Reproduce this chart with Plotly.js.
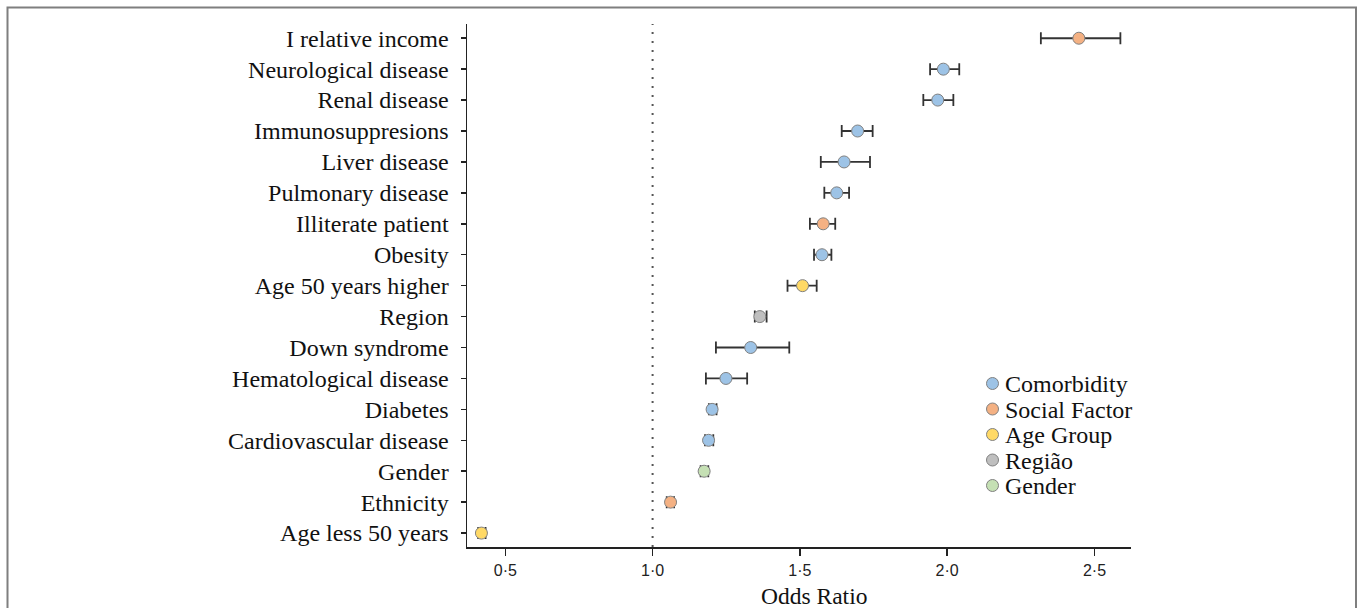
<!DOCTYPE html>
<html>
<head>
<meta charset="utf-8">
<script src="https://cdn.plot.ly/plotly-3.0.1.min.js"></script>
<style>
  html, body { margin: 0; padding: 0; background: #ffffff; }
  #chart { width: 1360px; height: 608px; }
</style>
</head>
<body>
<div id="chart"></div>
<script>
// ---- Data ----
const factors = [
  "I relative income", "Neurological disease", "Renal disease", "Immunosuppresions",
  "Liver disease", "Pulmonary disease", "Illiterate patient", "Obesity",
  "Age 50 years higher", "Region", "Down syndrome", "Hematological disease",
  "Diabetes", "Cardiovascular disease", "Gender", "Ethnicity", "Age less 50 years"
];
const oddsRatio = [2.447, 1.987, 1.968, 1.696, 1.650, 1.625, 1.579, 1.575,
                   1.509, 1.364, 1.333, 1.249, 1.202, 1.190, 1.175, 1.061, 0.419];
const ciLow     = [2.318, 1.942, 1.919, 1.642, 1.571, 1.583, 1.534, 1.548,
                   1.458, 1.347, 1.215, 1.181, 1.191, 1.178, 1.163, 1.048, 0.408];
const ciHigh    = [2.588, 2.041, 2.021, 1.747, 1.738, 1.667, 1.620, 1.607,
                   1.557, 1.387, 1.464, 1.321, 1.217, 1.206, 1.189, 1.073, 0.433];
const factorGroup = [
  "Social Factor", "Comorbidity", "Comorbidity", "Comorbidity",
  "Comorbidity", "Comorbidity", "Social Factor", "Comorbidity",
  "Age Group", "Região", "Comorbidity", "Comorbidity",
  "Comorbidity", "Comorbidity", "Gender", "Social Factor", "Age Group"
];
const groupNames  = ["Comorbidity", "Social Factor", "Age Group", "Região", "Gender"];
const groupColors = ["#9DC3E6", "#F4B183", "#FFD966", "#BFBFBF", "#C5E0B4"];
const xTickVals   = [0.5, 1.0, 1.5, 2.0, 2.5];
const xTickText   = ["0·5", "1·0", "1·5", "2·0", "2·5"];
const referenceOR = 1.0;

// ---- Geometry helpers (pixels -> paper) ----
const W = 1360, H = 608;
const M = { l: 467, r: 229, t: 24, b: 61 };
const PW = W - M.l - M.r, PH = H - M.t - M.b;
const px = x => (x - M.l) / PW;
const py = y => (H - M.b - y) / PH;

const serif = "Liberation Serif, Times New Roman, serif";
const sans = "Liberation Sans, Arial, sans-serif";
const textColor = "#111111";

// ---- Traces: one per group ----
const traces = groupNames.map((g, gi) => {
  const idx = factors.map((_, i) => i).filter(i => factorGroup[i] === g);
  return {
    type: "scatter",
    mode: "markers",
    name: g,
    showlegend: false,
    x: idx.map(i => oddsRatio[i]),
    y: idx.map(i => factors[i]),
    error_x: {
      type: "data",
      symmetric: false,
      array: idx.map(i => ciHigh[i] - oddsRatio[i]),
      arrayminus: idx.map(i => oddsRatio[i] - ciLow[i]),
      color: "#333333",
      thickness: 1.8,
      width: 6
    },
    marker: {
      symbol: "circle",
      size: 12,
      color: groupColors[gi],
      line: { color: "#808080", width: 1 }
    },
    hovertemplate: "%{y}: %{x}<extra>" + g + "</extra>"
  };
});

// ---- Manual legend (compact spacing as in reference) ----
const legendX = 992.5, legendTextX = 1003, legendY0 = 383.5, legendDy = 25.5;
const shapes = [];
const annotations = [];
groupNames.forEach((g, gi) => {
  const yc = legendY0 + gi * legendDy;
  shapes.push({
    type: "circle", xref: "paper", yref: "paper",
    xsizemode: "pixel", ysizemode: "pixel",
    xanchor: px(legendX), yanchor: py(yc),
    x0: -6, x1: 6, y0: -6, y1: 6,
    fillcolor: groupColors[gi],
    line: { color: "#808080", width: 1 }
  });
  annotations.push({
    xref: "paper", yref: "paper",
    x: px(legendTextX), y: py(yc + 0.5),
    xanchor: "left", yanchor: "middle",
    text: g, showarrow: false,
    font: { family: serif, size: 24, color: textColor }
  });
});

// reference line at OR = 1
shapes.push({
  type: "line", xref: "x", yref: "paper",
  x0: referenceOR, x1: referenceOR, y0: 0, y1: 1,
  line: { color: "#555555", width: 2, dash: "2px,7px" }
});

// outer frame
shapes.push({
  type: "rect", xref: "paper", yref: "paper",
  x0: px(7.5), x1: px(1356), y0: py(620), y1: py(7.5),
  line: { color: "#7f7f7f", width: 2 },
  fillcolor: "rgba(0,0,0,0)"
});

// x-axis title
annotations.push({
  xref: "paper", yref: "paper",
  x: px(814), y: py(595.5),
  xanchor: "center", yanchor: "middle",
  text: "Odds Ratio", showarrow: false,
  font: { family: serif, size: 23.5, color: textColor }
});

const layout = {
  width: W, height: H,
  margin: M,
  paper_bgcolor: "#ffffff",
  plot_bgcolor: "#ffffff",
  showlegend: false,
  xaxis: {
    range: [0.37, 2.624],
    showgrid: false, zeroline: false,
    showline: true, linecolor: "#222222", linewidth: 1.5,
    ticks: "outside", ticklen: 7, tickwidth: 1.5, tickcolor: "#222222",
    tickvals: xTickVals, ticktext: xTickText,
    tickfont: { family: sans, size: 16, color: "#222222" },
    ticklabelstandoff: 1
  },
  yaxis: {
    type: "category",
    categoryorder: "array",
    categoryarray: factors.slice().reverse(),
    range: [-0.45, 16.46],
    showgrid: false, zeroline: false,
    showline: true, linecolor: "#222222", linewidth: 1.5,
    ticks: "outside", ticklen: 5, tickwidth: 1.5, tickcolor: "#222222",
    tickfont: { family: serif, size: 24, color: textColor },
    ticklabelstandoff: 7
  },
  shapes: shapes,
  annotations: annotations
};

Plotly.newPlot("chart", traces, layout, { displayModeBar: false, staticPlot: true });
</script>
</body>
</html>
